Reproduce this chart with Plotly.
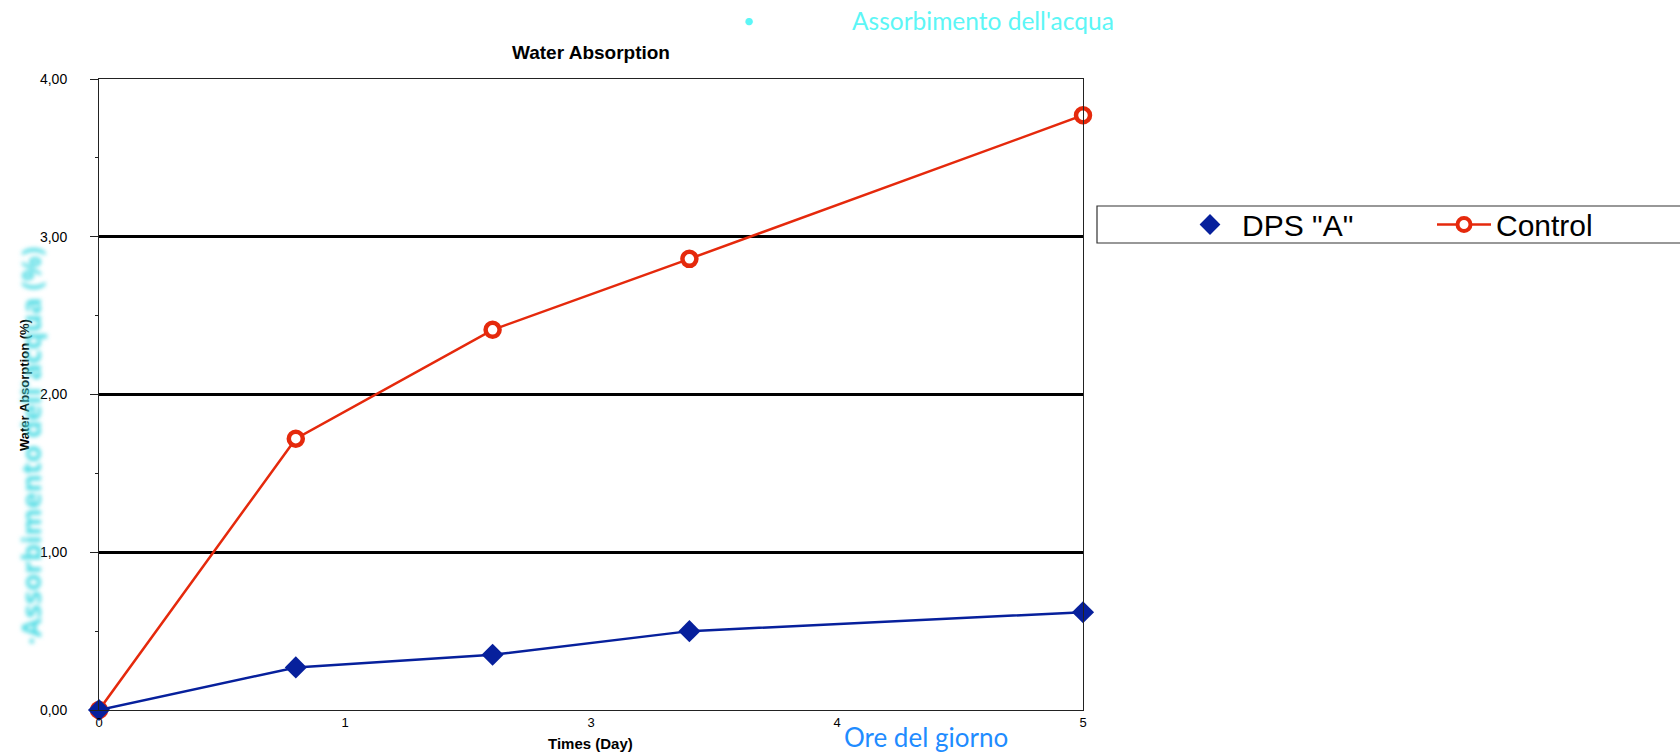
import plotly.graph_objects as go

# Water absorption over time for treated and untreated samples
days = [0, 1, 2, 3, 5]
dps_a = [0.00, 0.27, 0.35, 0.50, 0.62]
control = [0.00, 1.72, 2.41, 2.86, 3.77]

# Day axis: four equal intervals, labels rounded to whole days
x_tick_vals = [0, 1.25, 2.5, 3.75, 5]
x_tick_text = ["0", "1", "3", "4", "5"]
y_tick_vals = [0, 1, 2, 3, 4]

BLUE = "#07209c"
RED = "#e5290c"
ARIAL = "Liberation Sans, Arial, sans-serif"
GILL = "Lato, Open Sans, sans-serif"

W, H = 1680, 753
L, R, T, B = 99, 597, 79, 43
PW, PH = W - L - R, H - T - B


def px(x):
    return (x - L) / PW


def py(y):
    return (H - B - y) / PH


fig = go.Figure()

# Series (legend entries are drawn separately below)
fig.add_trace(go.Scatter(
    x=days, y=control, name="Control", mode="lines+markers",
    line=dict(color=RED, width=2.5),
    marker=dict(symbol="circle", size=14, color="white",
                line=dict(color=RED, width=4.5)),
    showlegend=False, cliponaxis=False,
))
fig.add_trace(go.Scatter(
    x=days, y=dps_a, name='DPS "A"', mode="lines+markers",
    line=dict(color=BLUE, width=2.5),
    marker=dict(symbol="diamond", size=17, color=BLUE,
                line=dict(color=BLUE, width=0)),
    showlegend=False, cliponaxis=False,
))

# Legend keys
fig.add_trace(go.Scatter(
    x=[None], y=[None], name='DPS "A"', mode="markers",
    marker=dict(symbol="diamond", size=19, color=BLUE),
    legendrank=1,
))
fig.add_trace(go.Scatter(
    x=[None], y=[None], name="Control", mode="lines+markers",
    line=dict(color=RED, width=2.5),
    marker=dict(symbol="circle", size=13, color="white",
                line=dict(color=RED, width=4)),
    legendrank=2,
))

# Legend frame runs off the right edge of the page
fig.add_shape(type="rect", xref="paper", yref="paper",
              x0=px(1097), x1=1.75, y0=py(243), y1=py(206),
              line=dict(color="#333333", width=1.2), fillcolor="white",
              layer="below")

ann = []
# Chart title
ann.append(dict(text="<b>Water Absorption</b>", xref="paper", yref="paper",
                x=0.5, y=py(52), showarrow=False,
                font=dict(family=ARIAL, size=19, color="black"),
                xanchor="center", yanchor="middle"))
# Axis titles
ann.append(dict(text="<b>Times (Day)</b>", xref="paper", yref="paper",
                x=px(590), y=py(743), showarrow=False,
                font=dict(family=ARIAL, size=15, color="black"),
                xanchor="center", yanchor="middle"))
ann.append(dict(text="<b>Water Absorption (%)</b>", xref="paper", yref="paper",
                x=px(24), y=py(385), showarrow=False, textangle=-90,
                font=dict(family=ARIAL, size=13, color="black"),
                xanchor="center", yanchor="middle"))
# Italian labels
ann.append(dict(text="<b>·Assorbimento dell'acqua (%)</b>", xref="paper", yref="paper",
                x=px(30), y=py(446), showarrow=False, textangle=-90,
                font=dict(family="Open Sans, Lato, sans-serif", size=27.5, color="#4fdce4"),
                xanchor="center", yanchor="middle"))
ann.append(dict(text="•", xref="paper", yref="paper",
                x=px(749), y=py(20), showarrow=False,
                font=dict(family=GILL, size=20, color="#5cf6f6"),
                xanchor="center", yanchor="middle"))
ann.append(dict(text="Assorbimento dell'acqua", xref="paper", yref="paper",
                x=px(850), y=py(21), showarrow=False,
                font=dict(family=GILL, size=24.5, color="#5cf6f6"),
                xanchor="left", yanchor="middle"))
ann.append(dict(text="Ore del giorno", xref="paper", yref="paper",
                x=px(926), y=py(737), showarrow=False,
                font=dict(family=GILL, size=26, color="#1f8cff"),
                xanchor="center", yanchor="middle"))

fig.update_layout(
    width=W, height=H,
    margin=dict(l=L, r=R, t=T, b=B, autoexpand=False),
    paper_bgcolor="white", plot_bgcolor="white",
    separators=",.",
    showlegend=True,
    legend=dict(
        orientation="h", x=px(1178), xanchor="left",
        y=py(224.5), yanchor="middle",
        font=dict(family=ARIAL, size=30, color="black"),
        bgcolor="rgba(0,0,0,0)", borderwidth=0,
        itemwidth=54, entrywidth=185, entrywidthmode="pixels",
        itemclick=False, itemdoubleclick=False,
    ),
    annotations=ann,
    xaxis=dict(
        range=[0, 5], tickvals=x_tick_vals, ticktext=x_tick_text,
        showgrid=False, zeroline=False,
        showline=True, linecolor="#222222", linewidth=1, mirror=True,
        ticks="", tickfont=dict(family=ARIAL, size=13, color="black"),
        fixedrange=True,
    ),
    yaxis=dict(
        range=[0, 4], tickvals=y_tick_vals, tickformat=".2f",
        showgrid=True, gridcolor="black", gridwidth=2.5, zeroline=False,
        showline=True, linecolor="#222222", linewidth=1, mirror=True,
        ticks="outside", ticklen=8, tickwidth=1, tickcolor="#222222",
        ticklabelstandoff=20,
        tickfont=dict(family=ARIAL, size=14, color="black"),
        minor=dict(dtick=0.5, ticks="outside", ticklen=3, tickwidth=1,
                   tickcolor="#222222", showgrid=False),
        fixedrange=True,
    ),
)

# Soft focus on the vertical Italian caption
post = """
var gd = document.getElementById('{plot_id}');
function soften() {
  var ns = 'http://www.w3.org/2000/svg';
  if (!document.getElementById('softfocus')) {
    var s = document.createElementNS(ns, 'svg');
    s.setAttribute('width', '0'); s.setAttribute('height', '0');
    s.style.position = 'absolute';
    var f = document.createElementNS(ns, 'filter');
    f.setAttribute('id', 'softfocus');
    f.setAttribute('x', '-30%'); f.setAttribute('y', '-30%');
    f.setAttribute('width', '160%'); f.setAttribute('height', '160%');
    var b = document.createElementNS(ns, 'feGaussianBlur');
    b.setAttribute('stdDeviation', '2');
    f.appendChild(b); s.appendChild(f); document.body.appendChild(s);
  }
  gd.querySelectorAll('.annotation-text').forEach(function (t) {
    if (t.textContent.indexOf('(%)') >= 0 && t.textContent.indexOf('Assorbimento') >= 0) {
      t.setAttribute('filter', 'url(#softfocus)');
    }
  });
}
soften();
gd.on('plotly_afterplot', soften);
"""

fig.write_html("out.html", post_script=post, config={"displayModeBar": False})
